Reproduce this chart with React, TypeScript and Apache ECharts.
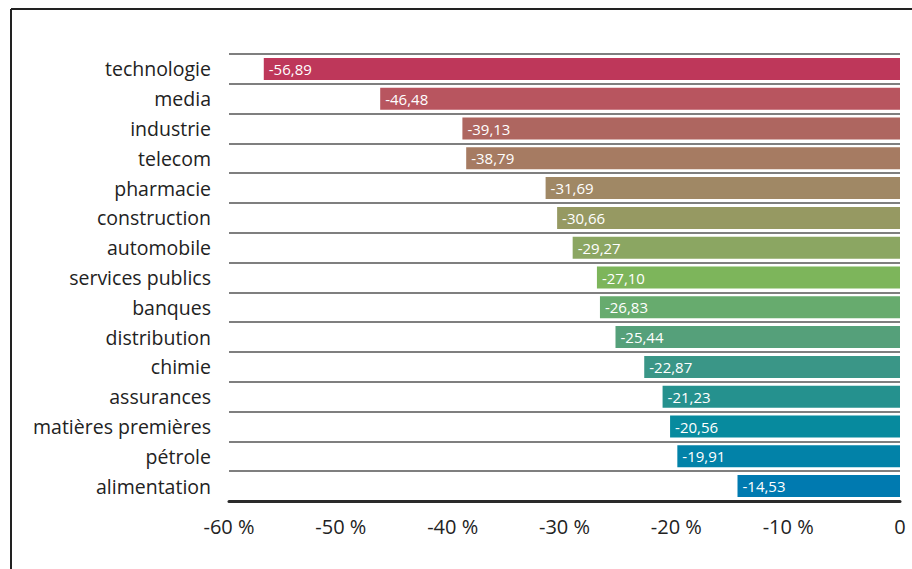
import React, { useEffect, useRef } from "react";
import * as echarts from "echarts";

const categories = [
  "technologie",
  "media",
  "industrie",
  "telecom",
  "pharmacie",
  "construction",
  "automobile",
  "services publics",
  "banques",
  "distribution",
  "chimie",
  "assurances",
  "matières premières",
  "pétrole",
  "alimentation",
];

const values = [
  -56.89, -46.48, -39.13, -38.79, -31.69, -30.66, -29.27, -27.1, -26.83, -25.44,
  -22.87, -21.23, -20.56, -19.91, -14.53,
];

const barColors = [
  "#BE375A",
  "#B8555F",
  "#AE6660",
  "#A67B62",
  "#A08865",
  "#969962",
  "#8BA662",
  "#7DB55B",
  "#67AB6E",
  "#55A07A",
  "#3A9687",
  "#25918E",
  "#078A9E",
  "#0282A8",
  "#007AB0",
];

const FONT = "'Open Sans', 'Noto Sans', sans-serif";

export default function App() {
  const ref = useRef<HTMLDivElement>(null);

  useEffect(() => {
    if (!ref.current) return;
    const chart = echarts.init(ref.current, null, { renderer: "svg" });
    chart.setOption({
      animation: false,
      backgroundColor: "#ffffff",
      grid: { left: 229, right: 12, top: 54, bottom: 68, containLabel: false },
      xAxis: {
        type: "value",
        min: -60,
        max: 0,
        interval: 10,
        axisLine: { show: true, lineStyle: { color: "#2a2a2a", width: 3 } },
        axisTick: { show: false },
        splitLine: { show: false },
        axisLabel: {
          color: "#222",
          fontSize: 20,
          fontFamily: FONT,
          margin: 15,
          formatter: (v: number) => (v === 0 ? "0" : `${v} %`),
        },
      },
      yAxis: {
        type: "category",
        data: categories,
        inverse: true,
        axisLine: { show: false },
        axisTick: { show: false },
        splitLine: { show: true, lineStyle: { color: "#555", width: 1.5 } },
        axisLabel: {
          color: "#222",
          fontSize: 19.5,
          fontFamily: FONT,
          margin: 18,
        },
      },
      series: [
        {
          type: "bar",
          barWidth: 22,
          data: values.map((v, i) => ({
            value: v,
            itemStyle: { color: barColors[i] },
          })),
          label: {
            show: true,
            position: "insideLeft",
            color: "#fff",
            fontSize: 15,
            fontFamily: FONT,
            distance: 5,
            formatter: (p: any) => p.value.toFixed(2).replace(".", ","),
          },
        },
      ],
      graphic: [
        {
          type: "line",
          shape: { x1: 11, y1: 9, x2: 912, y2: 9 },
          style: { stroke: "#222", lineWidth: 2 },
        },
        {
          type: "line",
          shape: { x1: 11, y1: 9, x2: 11, y2: 569 },
          style: { stroke: "#222", lineWidth: 2 },
        },
      ],
    });
    return () => chart.dispose();
  }, []);

  return (
    <div
      ref={ref}
      style={{ position: "fixed", left: 0, top: 0, width: 912, height: 569 }}
    />
  );
}
